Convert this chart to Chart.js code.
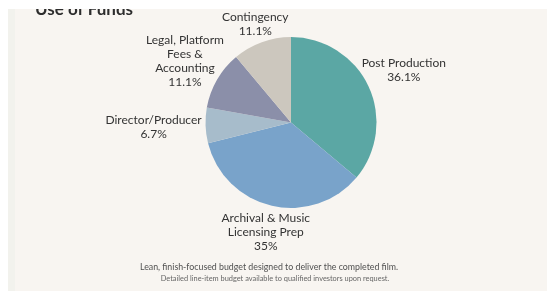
<!DOCTYPE html>
<html>
<head>
<meta charset="utf-8">
<script src="https://cdn.jsdelivr.net/npm/chart.js@4"></script>
<style>
  html, body { margin: 0; padding: 0; background: #ffffff; }
  #wrap { position: relative; width: 547px; height: 291px; }
</style>
</head>
<body>
<div id="wrap"><canvas id="chart-funds" width="547" height="291"></canvas></div>
<script>
// ── Data ───────────────────────────────────────────────
const categories = [
  ['Post Production'],
  ['Archival & Music', 'Licensing Prep'],
  ['Director/Producer'],
  ['Legal, Platform', 'Fees &', 'Accounting'],
  ['Contingency']
];
const shares     = [36.1, 35, 6.7, 11.1, 11.1];
const shareText  = ['36.1%', '35%', '6.7%', '11.1%', '11.1%'];
const colors     = ['#5ba7a4', '#79a3ca', '#a7bccb', '#8b8fa9', '#ccc7be'];

const TITLE  = 'Use of Funds';
const NOTE_1 = 'Lean, finish-focused budget designed to deliver the completed film.';
const NOTE_2 = 'Detailed line-item budget available to qualified investors upon request.';

const FONT = "Lato, 'Open Sans', sans-serif";

// ── Panel, title & footnotes ───────────────────────────
const panelPlugin = {
  id: 'panel',
  beforeDraw(chart) {
    const c = chart.ctx;
    c.save();
    c.fillStyle = '#ffffff';
    c.fillRect(0, 0, chart.width, chart.height);
    c.fillStyle = '#f2f2ed';
    c.fillRect(8, 9, 8, chart.height - 9);
    c.fillStyle = '#f8f5f1';
    c.fillRect(15, 9, chart.width - 15, chart.height - 9);
    // title sits partly above the panel and is cut off there
    c.beginPath();
    c.rect(8, 9, chart.width - 8, chart.height - 9);
    c.clip();
    c.fillStyle = '#2d2d2d';
    c.font = 'bold 17px ' + FONT;
    c.textAlign = 'left';
    c.textBaseline = 'alphabetic';
    c.fillText(TITLE, 35, 15);
    c.restore();

    c.save();
    c.textAlign = 'center';
    c.textBaseline = 'middle';
    c.fillStyle = '#505050';
    c.font = '8.8px ' + FONT;
    c.fillText(NOTE_1, 269, 267);
    c.fillStyle = '#666666';
    c.font = '7.4px ' + FONT;
    c.fillText(NOTE_2, 275, 279);
    c.restore();
  }
};

// ── Outside slice labels ───────────────────────────────
const sliceLabels = {
  id: 'sliceLabels',
  afterDatasetsDraw(chart, args, opts) {
    const c = chart.ctx;
    const meta = chart.getDatasetMeta(0);
    c.save();
    c.font = '12px ' + FONT;
    c.fillStyle = '#333333';
    c.textAlign = 'center';
    c.textBaseline = 'middle';
    meta.data.forEach((arc, i) => {
      const mid = (arc.startAngle + arc.endAngle) / 2;
      const d = arc.outerRadius + opts.gap[i];
      const x = arc.x + Math.cos(mid) * d;
      const y = arc.y + Math.sin(mid) * d;
      const lines = categories[i].concat([shareText[i]]);
      const lh = 13.8;
      const top = y - (lines.length - 1) * lh / 2;
      lines.forEach((t, k) => c.fillText(t, x, top + k * lh));
    });
    c.restore();
  }
};

new Chart(document.getElementById('chart-funds'), {
  type: 'pie',
  data: {
    labels: categories.map(l => l.join(' ')),
    datasets: [{
      data: shares,
      backgroundColor: colors,
      borderWidth: 0
    }]
  },
  options: {
    responsive: false,
    animation: false,
    layout: { padding: { left: 150, right: 115, top: 37, bottom: 83 } },
    plugins: {
      legend: { display: false },
      tooltip: { enabled: false },
      sliceLabels: { gap: [39, 27, 52, 37, 19] }
    }
  },
  plugins: [panelPlugin, sliceLabels]
});
</script>
</body>
</html>
